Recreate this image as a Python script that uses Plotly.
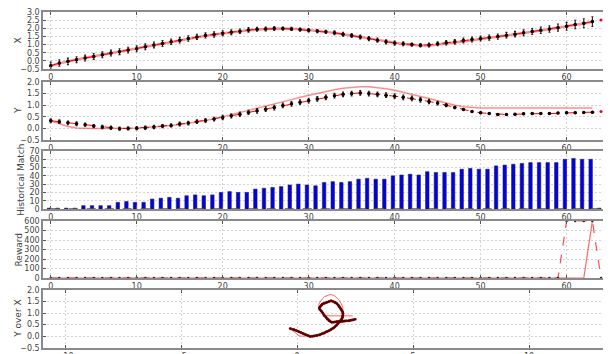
import plotly.graph_objects as go

# ---------------- data ----------------
steps_est = list(range(65))
steps_truth = list(range(64))

est_x = [-0.30, -0.13, -0.03, 0.07, 0.17, 0.27, 0.37, 0.48, 0.56, 0.66,
         0.74, 0.86, 0.98, 1.07, 1.17, 1.27, 1.37, 1.47, 1.56, 1.62,
         1.70, 1.76, 1.82, 1.90, 1.94, 1.96, 1.98, 1.98, 1.96, 1.92,
         1.88, 1.83, 1.78, 1.72, 1.64, 1.56, 1.47, 1.37, 1.27, 1.17,
         1.09, 1.05, 1.00, 0.96, 0.98, 1.05, 1.11, 1.17, 1.25, 1.31,
         1.37, 1.43, 1.49, 1.58, 1.64, 1.72, 1.80, 1.88, 1.96, 2.04,
         2.12, 2.23, 2.31, 2.41, 2.51]
err_x = [0.22, 0.20, 0.20, 0.18, 0.18, 0.18, 0.18, 0.18, 0.18, 0.18,
         0.18, 0.18, 0.18, 0.18, 0.17, 0.17, 0.17, 0.16, 0.16, 0.16,
         0.15, 0.15, 0.14, 0.14, 0.12, 0.12, 0.12, 0.10, 0.10, 0.10,
         0.10, 0.10, 0.10, 0.12, 0.12, 0.12, 0.12, 0.13, 0.13, 0.13,
         0.13, 0.12, 0.10, 0.10, 0.12, 0.12, 0.14, 0.14, 0.15, 0.15,
         0.15, 0.16, 0.16, 0.17, 0.17, 0.18, 0.18, 0.20, 0.20, 0.22,
         0.24, 0.26, 0.28, 0.30, 0.00]
est_y = [0.33, 0.29, 0.24, 0.20, 0.16, 0.10, 0.06, 0.03, -0.01, 0.00,
         0.01, 0.03, 0.06, 0.10, 0.13, 0.19, 0.23, 0.29, 0.34, 0.40,
         0.47, 0.54, 0.61, 0.69, 0.76, 0.83, 0.90, 0.99, 1.06, 1.13,
         1.20, 1.27, 1.34, 1.41, 1.47, 1.50, 1.53, 1.50, 1.47, 1.43,
         1.39, 1.34, 1.29, 1.23, 1.16, 1.09, 1.00, 0.90, 0.81, 0.73,
         0.67, 0.64, 0.60, 0.60, 0.61, 0.63, 0.64, 0.64, 0.64, 0.66,
         0.67, 0.67, 0.69, 0.70, 0.73]
err_y = [0.08, 0.08, 0.08, 0.08, 0.07, 0.07, 0.07, 0.07, 0.07, 0.07,
         0.07, 0.07, 0.07, 0.07, 0.07, 0.08, 0.08, 0.08, 0.08, 0.08,
         0.09, 0.09, 0.09, 0.09, 0.10, 0.10, 0.10, 0.10, 0.10, 0.10,
         0.10, 0.10, 0.10, 0.10, 0.10, 0.10, 0.10, 0.10, 0.10, 0.10,
         0.10, 0.10, 0.10, 0.10, 0.09, 0.08, 0.07, 0.05, 0.03, 0.02,
         0.02, 0.02, 0.02, 0.02, 0.02, 0.02, 0.02, 0.02, 0.02, 0.02,
         0.02, 0.02, 0.02, 0.02, 0.00]
truth_x = [-0.30, -0.15, -0.03, 0.08, 0.18, 0.28, 0.38, 0.48, 0.57, 0.66,
           0.75, 0.85, 0.95, 1.05, 1.15, 1.25, 1.35, 1.45, 1.54, 1.62,
           1.70, 1.76, 1.82, 1.88, 1.93, 1.96, 1.98, 1.99, 1.97, 1.94,
           1.90, 1.84, 1.78, 1.71, 1.64, 1.56, 1.47, 1.38, 1.28, 1.19,
           1.11, 1.04, 0.98, 0.94, 0.95, 1.00, 1.06, 1.12, 1.19, 1.26,
           1.33, 1.40, 1.47, 1.55, 1.63, 1.71, 1.79, 1.87, 1.95, 2.03,
           2.12, 2.21, 2.30, 2.40]
truth_y = [0.33, 0.20, 0.08, 0.02, 0.00, 0.00, 0.00, 0.00, 0.00, 0.01,
           0.02, 0.04, 0.06, 0.09, 0.13, 0.17, 0.22, 0.28, 0.34, 0.41,
           0.50, 0.58, 0.67, 0.76, 0.86, 0.95, 1.05, 1.15, 1.24, 1.34,
           1.43, 1.52, 1.60, 1.67, 1.73, 1.77, 1.80, 1.79, 1.76, 1.71,
           1.64, 1.56, 1.47, 1.38, 1.29, 1.19, 1.09, 1.00, 0.93, 0.89,
           0.88, 0.88, 0.88, 0.88, 0.88, 0.88, 0.88, 0.88, 0.88, 0.88,
           0.88, 0.88, 0.88, 0.88]
hist_match = [1, 1, 1, 1, 4, 4, 4, 4, 8, 9,
              8, 8, 12, 13, 14, 13, 16, 17, 16, 17,
              20, 21, 20, 20, 24, 25, 26, 27, 29, 30,
              29, 28, 32, 33, 32, 33, 36, 37, 36, 36,
              40, 41, 42, 41, 45, 44, 44, 44, 48, 49,
              48, 48, 52, 53, 54, 55, 56, 56, 56, 56,
              60, 61, 60, 60, 1]
hist_base = [0] * 65
reward_est = [0, 0, 0, 0, 0, 0, 0, 0, 0, 0,
              0, 0, 0, 0, 0, 0, 0, 0, 0, 0,
              0, 0, 0, 0, 0, 0, 0, 0, 0, 0,
              0, 0, 0, 0, 0, 0, 0, 0, 0, 0,
              0, 0, 0, 0, 0, 0, 0, 0, 0, 0,
              0, 0, 0, 0, 0, 0, 0, 0, 0, 0,
              600, 600, 600, 600, 0]
reward_truth = [0, 0, 0, 0, 0, 0, 0, 0, 0, 0,
                0, 0, 0, 0, 0, 0, 0, 0, 0, 0,
                0, 0, 0, 0, 0, 0, 0, 0, 0, 0,
                0, 0, 0, 0, 0, 0, 0, 0, 0, 0,
                0, 0, 0, 0, 0, 0, 0, 0, 0, 0,
                0, 0, 0, 0, 0, 0, 0, 0, 0, 0,
                0, 0, 0, 600]

panel_titles = ["X", "Y", "Historical Match", "Reward", "Y over X"]
step_ticks = [0, 10, 20, 30, 40, 50, 60]
xy_ticks = [-10, -5, 0, 5, 10]
yticks_x = [-0.5, 0.0, 0.5, 1.0, 1.5, 2.0, 2.5, 3.0]
yticks_y = [-0.5, 0.0, 0.5, 1.0, 1.5, 2.0]
yticks_hist = [0, 10, 20, 30, 40, 50, 60, 70]
yticks_reward = [0, 100, 200, 300, 400, 500, 600]

# ---------------- figure ----------------
# page body has an 8px margin, so the figure starts at (8, 8) in the window
OFF = 8
W, H = 611 - OFF, 354 - OFF
RED = "#ff0000"
TRUTH = "rgba(255,0,0,0.45)"

fig = go.Figure()

# Panel 1: X
fig.add_trace(go.Scatter(x=steps_truth, y=truth_x, mode="lines",
                         line=dict(color=TRUTH, width=2.5), xaxis="x", yaxis="y"))
fig.add_trace(go.Scatter(x=steps_est, y=est_x, mode="lines+markers",
                         line=dict(color=RED, width=1, dash="dash"),
                         marker=dict(color=RED, size=3), xaxis="x", yaxis="y"))
fig.add_trace(go.Scatter(x=steps_est[:-1], y=est_x[:-1], mode="markers",
                         marker=dict(color="black", size=3.5),
                         error_y=dict(type="data", array=err_x[:-1], color="#222",
                                      thickness=1.1, width=1),
                         xaxis="x", yaxis="y"))

# Panel 2: Y
fig.add_trace(go.Scatter(x=steps_truth, y=truth_y, mode="lines",
                         line=dict(color=TRUTH, width=1.5), xaxis="x2", yaxis="y2"))
fig.add_trace(go.Scatter(x=steps_est, y=est_y, mode="lines+markers",
                         line=dict(color=RED, width=1, dash="dash"),
                         marker=dict(color=RED, size=3), xaxis="x2", yaxis="y2"))
fig.add_trace(go.Scatter(x=steps_est[:-1], y=est_y[:-1], mode="markers",
                         marker=dict(color="black", size=3.5),
                         error_y=dict(type="data", array=err_y[:-1], color="#222",
                                      thickness=1.1, width=1),
                         xaxis="x2", yaxis="y2"))

# Panel 3: Historical Match
fig.add_trace(go.Bar(x=steps_est, y=hist_match, width=0.4, offset=-0.4,
                     marker=dict(color="#0000f0", line=dict(color="#202040", width=0.6)),
                     xaxis="x3", yaxis="y3"))
fig.add_trace(go.Scatter(x=steps_est, y=hist_base, mode="lines",
                         line=dict(color="#555", width=1.5, dash="dash"),
                         xaxis="x3", yaxis="y3"))

# Panel 4: Reward
fig.add_trace(go.Scatter(x=steps_truth, y=reward_truth, mode="lines",
                         line=dict(color="rgba(255,0,0,0.6)", width=1.2), xaxis="x4", yaxis="y4"))
fig.add_trace(go.Scatter(x=steps_est, y=reward_est, mode="lines+markers",
                         line=dict(color="rgba(255,0,0,0.7)", width=1.2, dash="dash"),
                         marker=dict(color="#222", size=2.5), xaxis="x4", yaxis="y4"))

# Panel 5: Y over X
fig.add_trace(go.Scatter(x=truth_x, y=truth_y, mode="lines",
                         line=dict(color="rgba(255,0,0,0.6)", width=1), xaxis="x5", yaxis="y5"))
fig.add_trace(go.Scatter(x=est_x, y=est_y, mode="lines+markers",
                         line=dict(color="#8b0a0a", width=2.5),
                         marker=dict(color="#5a0000", size=2.5), xaxis="x5", yaxis="y5"))

# ---------------- layout ----------------
L, R = 43 - OFF, 607 - OFF
panels_px = [(12, 69), (82, 140), (151, 209), (221, 278), (290, 347.7)]
yranges = [[-0.5, 3.0], [-0.5, 2.0], [0, 70], [0, 600], [-0.5, 2.0]]
yticks_all = [yticks_x, yticks_y, yticks_hist, yticks_reward, yticks_y]
yfmt = ["{:.1f}", "{:.1f}", "{:d}", "{:d}", "{:.1f}"]

axis_common = dict(showline=True, linecolor="#8a8a8a", linewidth=1.5, mirror="ticks",
                   showgrid=True, gridcolor="#d4d4d4", griddash="2px,2px", gridwidth=1,
                   ticks="inside", ticklen=3, tickcolor="#555", zeroline=False,
                   tickfont=dict(family="DejaVu Sans", size=8, color="#444"),
                   ticklabeloverflow="allow", automargin=False)

layout = dict(width=W, height=H, margin=dict(l=0, r=0, t=0, b=0),
              paper_bgcolor="white", plot_bgcolor="white", showlegend=False,
              annotations=[])

for i, (top, bot) in enumerate(panels_px):
    n = "" if i == 0 else str(i + 1)
    top, bot = top - OFF, bot - OFF
    ydom = [1 - bot / H, 1 - top / H]
    xax = dict(axis_common, domain=[L / W, R / W], anchor="y" + n)
    if i < 4:
        xax.update(range=[-0.9, 64.7], tickmode="array", tickvals=step_ticks,
                   ticktext=[str(t) for t in step_ticks])
    else:
        xax.update(range=[-10.95, 13.36], tickmode="array", tickvals=xy_ticks,
                   ticktext=[str(t).replace("-", "\u2212") for t in xy_ticks])
    tv = yticks_all[i]
    yax = dict(axis_common, domain=ydom, anchor="x" + n, range=yranges[i],
               tickmode="array", tickvals=tv,
               ticktext=[yfmt[i].format(t).replace("-", "\u2212") for t in tv])
    layout["xaxis" + n] = xax
    layout["yaxis" + n] = yax
    layout["annotations"].append(dict(
        text=panel_titles[i], textangle=-90, xref="paper", yref="paper",
        x=((18 if i != 2 else 21) - OFF) / W, y=(ydom[0] + ydom[1]) / 2,
        xanchor="center", yanchor="middle", showarrow=False,
        font=dict(family="DejaVu Sans", size=9, color="#444")))

fig.update_layout(**layout)
fig.write_html("out.html")
